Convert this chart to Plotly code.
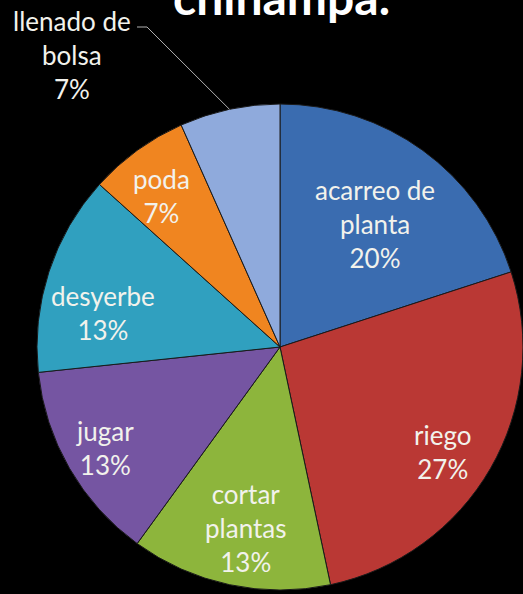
import math
import plotly.graph_objects as go

categories = ["acarreo de planta", "riego", "cortar plantas", "jugar", "desyerbe", "poda", "llenado de bolsa"]
label_text = ["acarreo de<br>planta", "riego", "cortar<br>plantas", "jugar", "desyerbe", "poda", "llenado de<br>bolsa"]
values = [3, 4, 2, 2, 2, 1, 1]
colors = ["#3A6CB0", "#BA3834", "#8DB53C", "#7555A2", "#30A0BF", "#F08520", "#8FAADC"]
title_line = "chinampa."

# label placement (layout only): radial fraction and angular nudge (deg) per inside label
label_rfrac = [0.64, 0.80, 0.76, 0.83, 0.74, 0.79]
label_dtheta = [1.6, 2.8, -1.3, 0.0, -7.0, -2.0]

W, H = 523, 594
cx, cy, R = 280, 347, 243  # pixel geometry of pie

total = sum(values)

fig = go.Figure(go.Pie(
    labels=categories,
    values=values,
    textinfo="none",
    sort=False,
    direction="clockwise",
    rotation=0,
    marker=dict(colors=colors, line=dict(color="#1a1a1a", width=1)),
    domain=dict(x=[(cx - R) / W, (cx + R) / W], y=[(H - cy - R) / H, (H - cy + R) / H]),
    showlegend=False,
    hoverinfo="label+percent",
))

font = dict(family="Lato", size=26, color="#F2F2EC")
cum = 0
for i, v in enumerate(values):
    mid = cum + v / 2
    cum += v
    pct = round(100 * v / total)
    if i < len(label_rfrac):
        ang = math.radians(360 * mid / total + label_dtheta[i])
        r = R * label_rfrac[i]
        px = cx + r * math.sin(ang)
        py = cy - r * math.cos(ang)
        fig.add_annotation(x=px / W, y=1 - py / H, xref="paper", yref="paper",
                           text=f"{label_text[i]}<br>{pct}%", showarrow=False,
                           font=font, xanchor="center", yanchor="middle")
    else:
        ang = 2 * math.pi * mid / total
        ex = cx + R * math.sin(ang)
        ey = cy - R * math.cos(ang)
        lx, ly = 147, 27
        fig.add_shape(type="path",
                      path=f"M {137/W} {1-ly/H} L {lx/W} {1-ly/H} L {ex/W} {1-ey/H}",
                      xref="paper", yref="paper", line=dict(color="#B0B0B0", width=1))
        fig.add_annotation(x=72 / W, y=1 - 55 / H, xref="paper", yref="paper",
                           text=f"{label_text[i]}<br>{pct}%", showarrow=False,
                           font=font, xanchor="center", yanchor="middle")

fig.add_annotation(x=281 / W, y=1 - 27 / H, xref="paper", yref="paper",
                   text=f"<b>{title_line}</b>", showarrow=False,
                   font=dict(family="Lato", size=48, color="#FFFFFF"),
                   xanchor="center", yanchor="bottom")

fig.update_layout(width=W, height=H, margin=dict(l=0, r=0, t=0, b=0),
                  paper_bgcolor="#000000", plot_bgcolor="#000000")
fig.write_html("out.html")
